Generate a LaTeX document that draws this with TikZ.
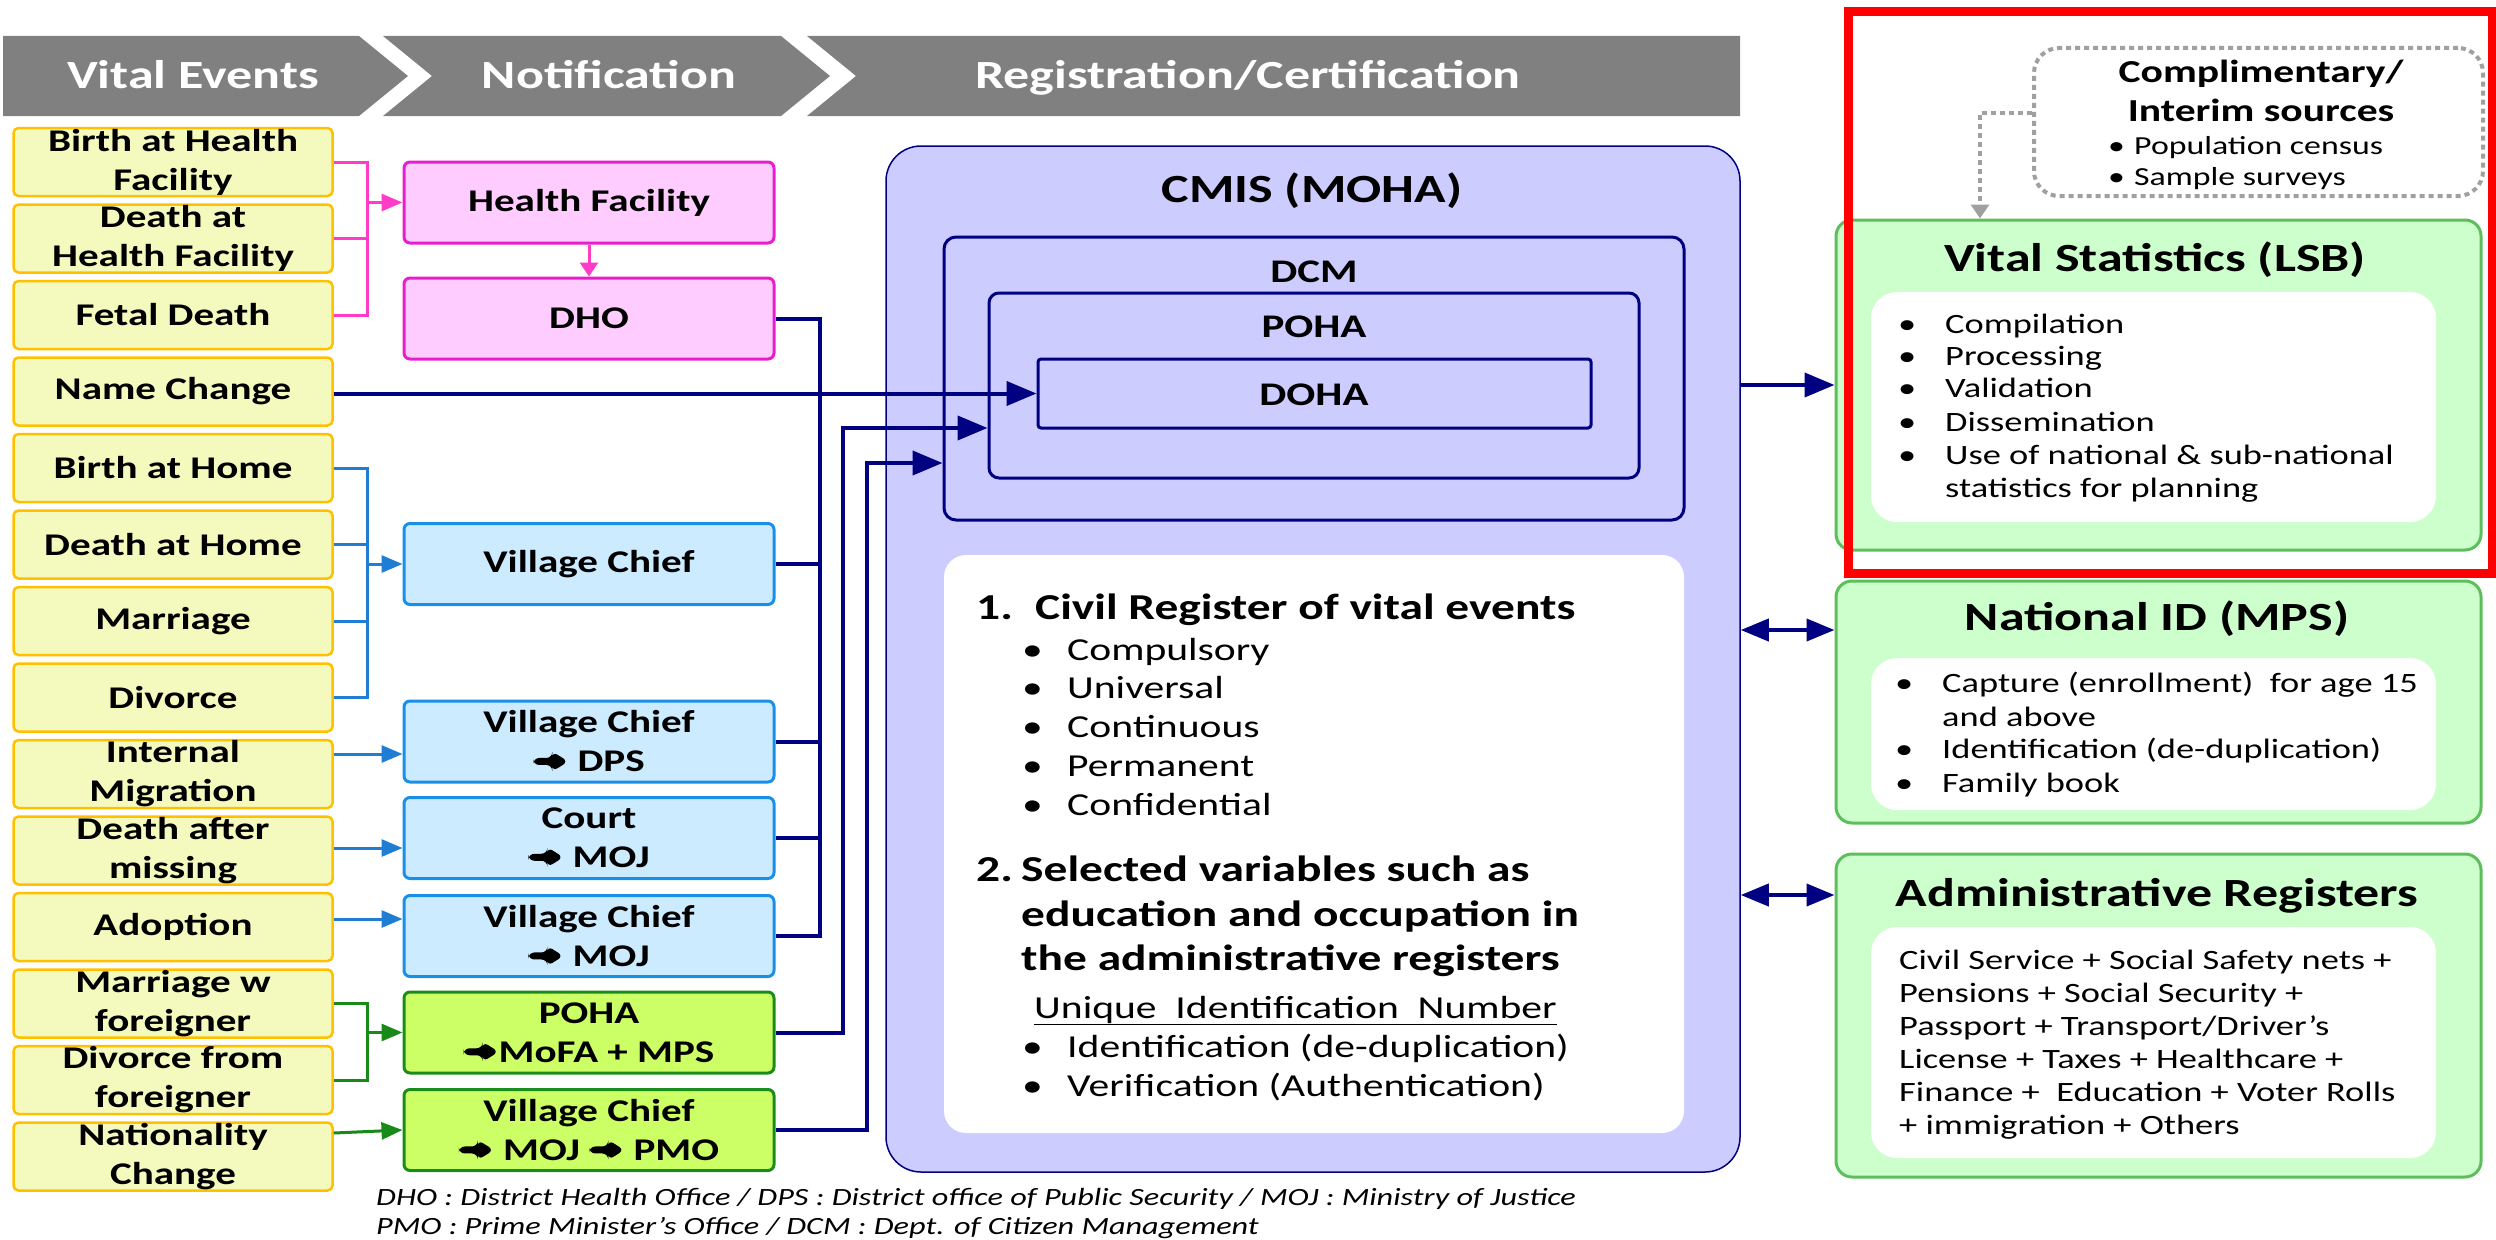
\documentclass[tikz,border=0pt]{standalone}
\usepackage{fontspec}
\setmainfont{Carlito}[FakeStretch=1.3]
\usetikzlibrary{arrows.meta}
\definecolor{yfill}{HTML}{F4FABE}
\definecolor{ybord}{HTML}{FFC000}
\definecolor{pfill}{HTML}{FFCCFF}
\definecolor{pbord}{HTML}{E61ECF}
\definecolor{pline}{HTML}{FF3CC8}
\definecolor{bfill}{HTML}{CCEBFF}
\definecolor{bbord}{HTML}{1A8FE8}
\definecolor{bline}{HTML}{1F7ED4}
\definecolor{gfill}{HTML}{CCFF66}
\definecolor{gbord}{HTML}{1A8C1A}
\definecolor{gline}{HTML}{178A17}
\definecolor{nvy}{HTML}{000080}
\definecolor{cmisfill}{HTML}{CCCCFF}
\definecolor{rfill}{HTML}{CCFFCC}
\definecolor{rbord}{HTML}{5CBF5C}
\definecolor{hdr}{HTML}{808080}
\definecolor{dotgray}{HTML}{A0A0A0}
\definecolor{redbox}{HTML}{FF0000}
\newcommand\rarr{\tikz[baseline=0pt,x=1pt,y=1pt]\fill[black] (0,7) -- (19,7) -- (19,0.5) -- (35,10.5) -- (19,20.5) -- (19,14) -- (0,14) -- cycle;}
\newcommand\fHd{\fontsize{40}{48}\selectfont\bfseries}
\newcommand\fBx{\fontsize{31.6}{39}\selectfont\bfseries}
\newcommand\fIn{\fontsize{33}{40}\selectfont\bfseries}
\newcommand\fCi{\fontsize{36.5}{44}\selectfont\bfseries}
\newcommand\fIt{\fontsize{32}{39}\selectfont}
\newcommand\fRt{\fontsize{28}{33}\selectfont}
\newcommand\fCo{\fontsize{32}{39}\selectfont\bfseries}
\newcommand\fSm{\fontsize{26}{32}\selectfont}
\newcommand\fFn{\fontsize{24.8}{29}\selectfont\itshape}
\begin{document}
\begin{tikzpicture}[x=1pt,y=-1pt,
  yb/.style={draw=ybord, fill=yfill, line width=2.5pt, rounded corners=5pt, minimum width=319pt, minimum height=68pt, inner sep=0pt, align=center, font=\fBx},
  nb/.style={line width=3pt, rounded corners=6pt, minimum width=370pt, minimum height=81pt, inner sep=0pt, align=center, font=\fBx},
  pkb/.style={nb, draw=pbord, fill=pfill},
  blb/.style={nb, draw=bbord, fill=bfill},
  grb/.style={nb, draw=gbord, fill=gfill},
  pk/.style={draw=pline, line width=3pt},
  bl/.style={draw=bline, line width=3pt},
  gr/.style={draw=gline, line width=3pt},
  nv/.style={draw=nvy, line width=4pt},
  tipS/.tip={Triangle[length=21pt,width=17pt]},
  tipN/.tip={Triangle[length=30pt,width=24pt]},
  nest/.style={draw=nvy, line width=3pt, inner sep=0pt},
  rb/.style={draw=rbord, fill=rfill, line width=3pt, rounded corners=16pt, minimum width=645pt, inner sep=0pt},
  wbr/.style={fill=white, rounded corners=26pt, minimum width=565pt, inner sep=0pt},
  txt/.style={inner sep=0pt, anchor=base west},
  ctr/.style={inner sep=0pt, anchor=base},
  dotln/.style={draw=dotgray, line width=4pt, dash pattern=on 5pt off 4pt}
]
\useasboundingbox (0,0) rectangle (2496,1239);

% header chevrons
\fill[hdr] (3,36) -- (359,36) -- (408,76) -- (359,116) -- (3,116) -- cycle;
\fill[hdr] (383,36) -- (781,36) -- (830,76) -- (781,116) -- (383,116) -- (432,76) -- cycle;
\fill[hdr] (807,36) -- (1740,36) -- (1740,116) -- (807,116) -- (856,76) -- cycle;
\node[ctr, text=white, font=\fHd] (h1) at (193,88.6) {Vital Events};
\node[ctr, text=white, font=\fHd] (h2) at (609,88.6) {Notification};
\node[ctr, text=white, font=\fHd] (h3) at (1248,88.6) {Registration/Certification};

% vital events
\node[yb] (e1) at (173,162) {Birth at Health\\Facility};
\node[yb] (e2) at (173,238.5) {Death at\\Health Facility};
\node[yb] (e3) at (173,315) {Fetal Death};
\node[yb] (e4) at (173,391.5) {Name Change};
\node[yb] (e5) at (173,468) {Birth at Home};
\node[yb] (e6) at (173,544.5) {Death at Home};
\node[yb] (e7) at (173,621) {Marriage};
\node[yb] (e8) at (173,697.5) {Divorce};
\node[yb] (e9) at (173,774) {Internal\\Migration};
\node[yb] (e10) at (173,850.5) {Death after\\missing};
\node[yb] (e11) at (173,927) {Adoption};
\node[yb] (e12) at (173,1003.5) {Marriage w\\foreigner};
\node[yb] (e13) at (173,1080) {Divorce from\\foreigner};
\node[yb] (e14) at (173,1156.5) {Nationality\\Change};

% notification
\node[pkb] (hf) at (589,202.5) {Health Facility};
\node[pkb] (dho) at (589,318.5) {DHO};
\node[blb] (vc1) at (589,564) {Village Chief};
\node[blb] (vc2) at (589,741.5) {Village Chief\\\rarr\ DPS};
\node[blb] (court) at (589,838) {Court\\\rarr\ MOJ};
\node[blb] (vc3) at (589,936) {Village Chief\\\rarr\ MOJ};
\node[grb] (pm) at (589,1032.5) {POHA\\\rarr MoFA + MPS};
\node[grb] (pmo) at (589,1130) {Village Chief\\\rarr\ MOJ \rarr\ PMO};

% CMIS
\node[draw=nvy, fill=cmisfill, line width=1.5pt, rounded corners=35pt, minimum width=854pt, minimum height=1026pt, inner sep=0pt] (cmis) at (1313,659) {};
\node[nest, rounded corners=12pt, minimum width=740pt, minimum height=283pt] (dcm) at (1314,378.5) {};
\node[nest, rounded corners=10pt, minimum width=650pt, minimum height=185pt] (pohab) at (1314,385.5) {};
\node[nest, rounded corners=3pt, minimum width=553pt, minimum height=69pt] (doha) at (1314.5,393.5) {};
\node[fill=white, rounded corners=22pt, minimum width=740pt, minimum height=578pt, inner sep=0pt] (wb) at (1314,844) {};
\node[ctr, font=\fHd] (tc) at (1312,202.6) {CMIS (MOHA)};
\node[ctr, font=\fIn] (td) at (1314,282.4) {DCM};
\node[ctr, font=\fIn] (tp) at (1314,337.4) {POHA};
\node[ctr, font=\fIn] (to) at (1314,405.4) {DOHA};

\node[txt, font=\fCi] (l1) at (976,619) {\makebox[59pt][l]{1.}Civil Register of vital events};
\node[txt, font=\fIt] (b1) at (1022,660) {\makebox[45pt][l]{•}Compulsory};
\node[txt, font=\fIt] (b2) at (1022,698) {\makebox[45pt][l]{•}Universal};
\node[txt, font=\fIt] (b3) at (1022,737) {\makebox[45pt][l]{•}Continuous};
\node[txt, font=\fIt] (b4) at (1022,776) {\makebox[45pt][l]{•}Permanent};
\node[txt, font=\fIt] (b5) at (1022,815) {\makebox[45pt][l]{•}Confidential};
\node[txt, font=\fCi] (l2) at (976,881) {\makebox[45pt][l]{2.}Selected variables such as};
\node[txt, font=\fCi] (l3) at (1021,926) {education and occupation in};
\node[txt, font=\fCi] (l4) at (1021,970) {the administrative registers};
\node[txt, font=\fIt] (l5) at (1034,1018) {\underline{Unique\ \ Identification\ \ Number}};
\node[txt, font=\fIt] (b6) at (1022,1057) {\makebox[45pt][l]{•}Identification (de-duplication)};
\node[txt, font=\fIt] (b7) at (1022,1096) {\makebox[45pt][l]{•}Verification (Authentication)};

% right boxes
\node[dotln, rounded corners=25pt, minimum width=449pt, minimum height=148pt, inner sep=0pt] (cs) at (2258.5,122) {};
\node[ctr, font=\fCo] (cs1) at (2261,82) {Complimentary/};
\node[ctr, font=\fCo] (cs2) at (2261,121) {Interim sources};
\node[txt, font=\fSm] (cs3) at (2108,154) {\makebox[26pt][l]{•}Population census};
\node[txt, font=\fSm] (cs4) at (2108,185) {\makebox[26pt][l]{•}Sample surveys};

\node[rb, minimum height=330pt] (vs) at (2158.5,385) {};
\node[wbr, minimum height=230pt] (vsw) at (2153.5,407) {};
\node[ctr, font=\fHd] (vst) at (2155,271.6) {Vital Statistics (LSB)};
\node[txt, font=\fRt] (v1) at (1898,333) {\makebox[47pt][l]{•}Compilation};
\node[txt, font=\fRt] (v2) at (1898,365) {\makebox[47pt][l]{•}Processing};
\node[txt, font=\fRt] (v3) at (1898,397) {\makebox[47pt][l]{•}Validation};
\node[txt, font=\fRt] (v4) at (1898,431) {\makebox[47pt][l]{•}Dissemination};
\node[txt, font=\fRt] (v5) at (1898,464) {\makebox[47pt][l]{•}Use of national \& sub-national};
\node[txt, font=\fRt] (v6) at (1945,497) {statistics for planning};

\node[rb, minimum height=242pt] (nid) at (2158.5,702) {};
\node[wbr, minimum height=152pt] (nidw) at (2153.5,734) {};
\node[ctr, font=\fHd] (nidt) at (2157,630.6) {National ID (MPS)};
\node[txt, font=\fRt] (n1) at (1895,692) {\makebox[47pt][l]{•}Capture (enrollment)\ \ for age 15};
\node[txt, font=\fRt] (n2) at (1942,726) {and above};
\node[txt, font=\fRt] (n3) at (1895,758) {\makebox[47pt][l]{•}Identification (de-duplication)};
\node[txt, font=\fRt] (n4) at (1895,792) {\makebox[47pt][l]{•}Family book};

\node[rb, minimum height=323pt] (adm) at (2158.5,1015.5) {};
\node[wbr, minimum height=231pt] (admw) at (2153.5,1042.5) {};
\node[ctr, font=\fHd] (admt) at (2157,906.6) {Administrative Registers};
\node[txt, font=\fRt] (a1) at (1899,969) {Civil Service + Social Safety nets +};
\node[txt, font=\fRt] (a2) at (1899,1002) {Pensions + Social Security +};
\node[txt, font=\fRt] (a3) at (1899,1035) {Passport + Transport/Driver’s};
\node[txt, font=\fRt] (a4) at (1899,1068) {License + Taxes + Healthcare +};
\node[txt, font=\fRt] (a5) at (1899,1101) {Finance +\ \ Education + Voter Rolls};
\node[txt, font=\fRt] (a6) at (1899,1134) {+ immigration + Others};

% footnote
\node[txt, font=\fFn] (fn1) at (376,1205) {DHO : District Health Office / DPS : District office of Public Security / MOJ : Ministry of Justice};
\node[txt, font=\fFn] (fn2) at (376,1234) {PMO : Prime Minister’s Office / DCM : Dept. of Citizen Management};

% pink connectors
\coordinate (pb) at (367,202.5);
\draw[pk] (e1.east) -| (pb);
\draw[pk] (e3.east) -| (pb);
\draw[pk] (e2.east) -- (e2.east -| pb);
\draw[pk,-{tipS}] (pb) -- (hf.west);
\draw[pk,-{Triangle[length=14pt,width=18pt]}] (hf.south) -- (dho.north);

% blue connectors
\coordinate (bb) at (367,564);
\draw[bl] (e5.east) -| (bb);
\draw[bl] (e8.east) -| (bb);
\draw[bl] (e6.east) -- (e6.east -| bb);
\draw[bl] (e7.east) -- (e7.east -| bb);
\draw[bl,-{tipS}] (bb) -- (vc1.west);
\draw[bl,-{tipS}] ([yshift=20pt]e9.east) -- ([yshift=20pt]e9.east -| vc2.west);
\draw[bl,-{tipS}] ([yshift=2.5pt]e10.east) -- ([yshift=2.5pt]e10.east -| court.west);
\draw[bl,-{tipS}] ([yshift=8pt]e11.east) -- ([yshift=8pt]e11.east -| vc3.west);

% green connectors
\coordinate (gb) at (367,1032.5);
\draw[gr] (e12.east) -| (gb);
\draw[gr] (e13.east) -| (gb);
\draw[gr,-{tipS}] (gb) -- (pm.west);
\draw[gr,-{tipS}] ([yshift=23.5pt]e14.east) -- (pmo.west);

% navy connectors
\coordinate (nbx) at (820,393.5);
\draw[nv] (dho.east) -| (nbx);
\draw[nv] (vc1.east) -| (nbx);
\draw[nv] (vc2.east) -| (nbx);
\draw[nv] (court.east) -| (nbx);
\draw[nv] (vc3.east) -| (nbx);
\draw[nv,-{tipN}] (e4.east |- doha.west) -- (doha.west);
\coordinate (c2) at (843,428);
\draw[nv,-{tipN}] (pm.east) -| (c2) -- (c2 -| pohab.west);
\coordinate (c3) at (867,463);
\draw[nv,-{tipN}] (pmo.east) -| (c3) -- (c3 -| dcm.west);

% right arrows
\draw[nv,-{tipN}] (vs.west -| cmis.east) -- (vs.west);
\coordinate (y630) at (0,630);
\coordinate (y895) at (0,895);
\draw[nv,{Triangle[length=28pt,width=22pt]}-{Triangle[length=28pt,width=22pt]}] (cmis.east |- y630) -- (nid.west |- y630);
\draw[nv,{Triangle[length=28pt,width=22pt]}-{Triangle[length=28pt,width=22pt]}] (cmis.east |- y895) -- (adm.west |- y895);

% dotted arrow
\coordinate (dk) at (1980,113);
\draw[dotln,-{Triangle[length=14pt,width=18pt]}] (cs.west |- dk) -- (dk) -- (dk |- vs.north);

% red frame
\draw[redbox, line width=9pt] (1848,12) rectangle (2492,573);
\end{tikzpicture}
\end{document}
